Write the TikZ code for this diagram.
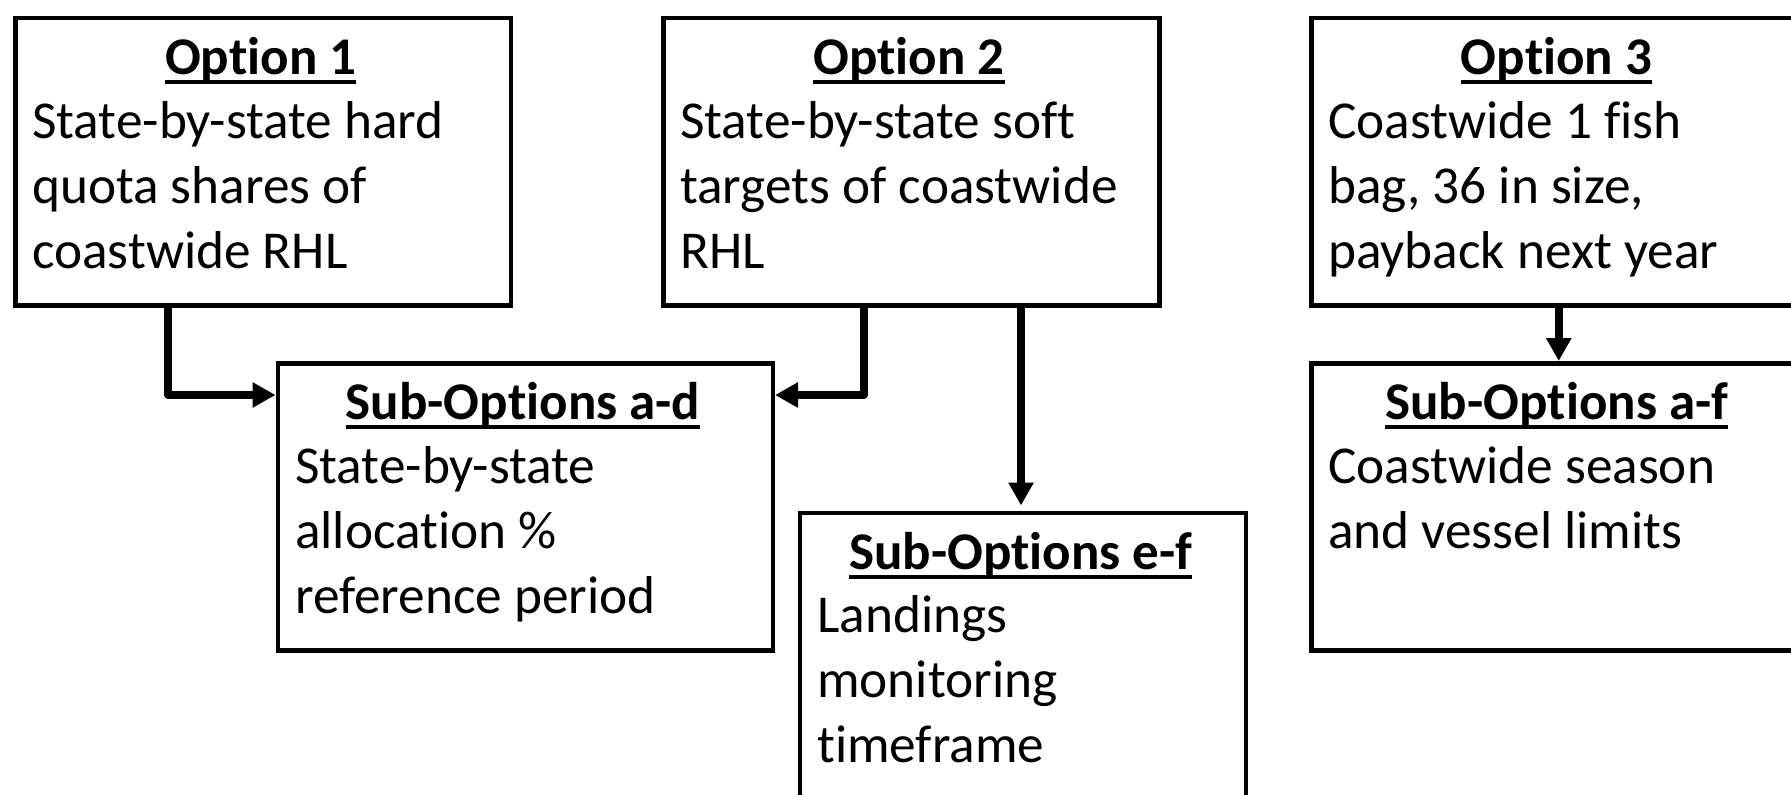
\documentclass[tikz,border=0pt]{standalone}
\usepackage{fontspec}
\setmainfont{Carlito}[Ligatures=NoCommon]
\usetikzlibrary{arrows.meta,calc}
\newcommand\ulin[1]{\setbox0\hbox{#1}\rlap{\vrule height -5.5bp depth 9.5bp width \wd0}\box0}
\tikzset{
  optbox/.style={draw=black, line width=4.5bp, minimum width=#1, minimum height=287bp,
    anchor=north west, inner sep=0pt},
  ttl/.style={font=\fontsize{53bp}{65bp}\selectfont\bfseries, anchor=base, inner sep=0pt},
  body/.style={font=\fontsize{53.3bp}{65bp}\selectfont, anchor=base west, inner sep=0pt},
  conn/.style={draw=black, line width=7.5bp, line join=round,
    -{Triangle[length=23bp,width=24bp]}},
}
\begin{document}
\begin{tikzpicture}[x=1bp,y=-1bp]
\useasboundingbox (0,0) rectangle (1791,795);
\fill[white] (0,0) rectangle (1791,795);

% boxes
\node[optbox=495.5bp] (o1) at (13,16) {};
\node[optbox=496bp] (o2) at (661,16) {};
\node[optbox=495bp] (o3) at (1309,16) {};
\node[optbox=495bp] (sad) at (275.5,361) {};
\node[optbox=495bp] (saf) at (1309,361) {};
\node[optbox=446bp] (sef) at (797.5,510.5) {};

% titles
\node[ttl] (o1t) at (260.75,74.5) {\ulin{Option 1}};
\node[ttl] (o2t) at (909,74.5) {\ulin{Option 2}};
\node[ttl] (o3t) at (1556.5,74.5) {\ulin{Option 3}};
\node[ttl] (sadt) at (523,419.5) {\ulin{Sub-Options a-d}};
\node[ttl] (saft) at (1556.5,419.5) {\ulin{Sub-Options a-f}};
\node[ttl] (seft) at (1020.5,569) {\ulin{Sub-Options e-f}};

% bodies
\node[body] (o1b) at (32,138) {\parbox[t]{470bp}{\raggedright State-by-state hard\\quota shares of\\coastwide RHL}};
\node[body] (o2b) at (680,138) {\parbox[t]{470bp}{\raggedright State-by-state soft\\targets of coastwide\\RHL}};
\node[body] (o3b) at (1328,138) {\parbox[t]{470bp}{\raggedright Coastwide 1 fish\\bag, 36 in size,\\payback next year}};
\node[body] (sadb) at (295,483) {\parbox[t]{470bp}{\raggedright State-by-state\\allocation \%\\reference period}};
\node[body] (safb) at (1328,483) {\parbox[t]{470bp}{\raggedright Coastwide season\\and vessel limits}};
\node[body] (sefb) at (817,632.5) {\parbox[t]{420bp}{\raggedright Landings\\monitoring\\timeframe}};

% connectors
\coordinate (j1) at (168,395);
\coordinate (j2) at (864,395);
\coordinate (j3) at (1021,0);
\draw[conn] (o1.south -| j1) -- (j1) -- (sad.west |- j1);
\draw[conn] (o2.south -| j2) -- (j2) -- (sad.east |- j2);
\draw[conn, shorten >=5bp] (o2.south -| j3) -- (sef.north -| j3);
\draw[conn] (o3.south) -- (saf.north);
\end{tikzpicture}
\end{document}
